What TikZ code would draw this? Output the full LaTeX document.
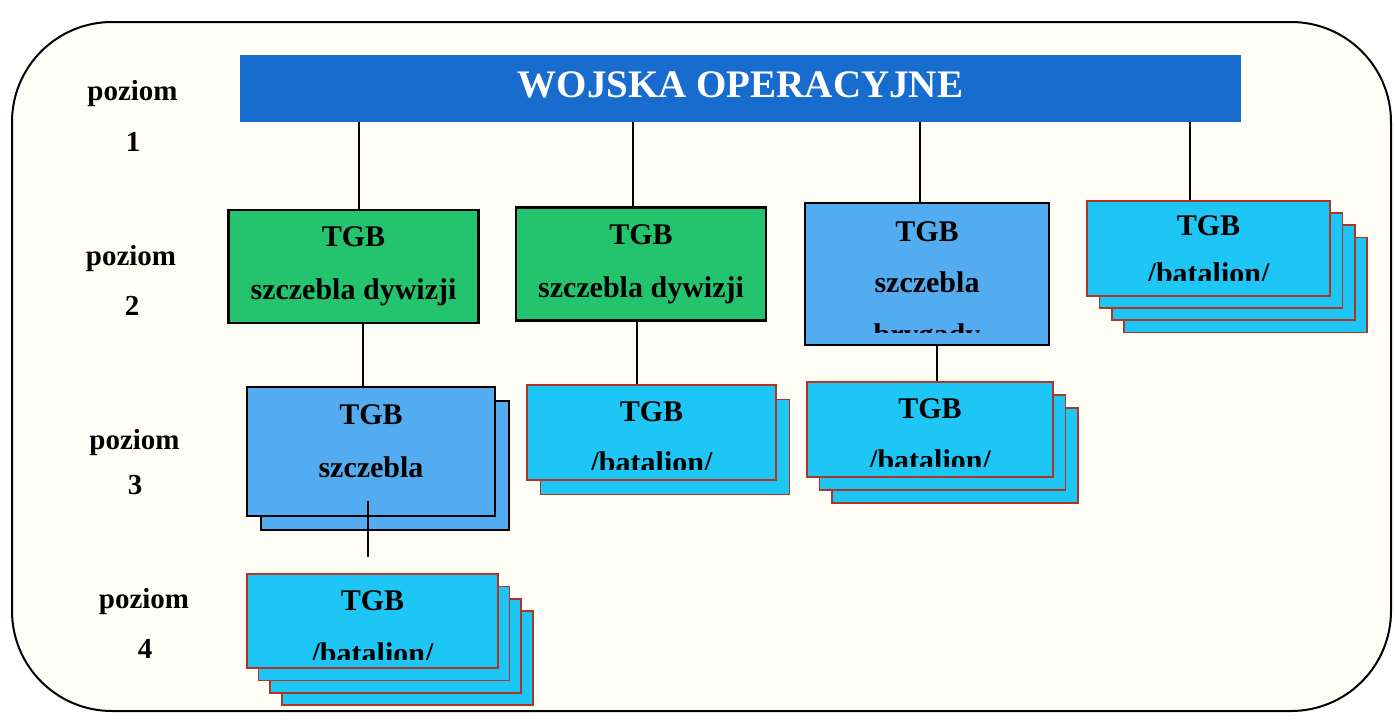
\documentclass[tikz,border=0pt]{standalone}
\usepackage{fontspec}
\setmainfont{Liberation Serif}
\usetikzlibrary{calc}

\definecolor{bannerblue}{RGB}{24,108,206}
\definecolor{tgbgreen}{RGB}{36,196,110}
\definecolor{tgbblue}{RGB}{84,172,240}
\definecolor{tgbcyan}{RGB}{30,198,246}
\definecolor{tgbred}{RGB}{176,52,34}
\definecolor{paper}{RGB}{254,253,246}

\tikzset{
  lvl/.style={font=\fontsize{29}{29}\selectfont\bfseries, anchor=base, inner sep=0pt},
  tgbtext/.style={font=\fontsize{30}{30}\selectfont\bfseries, anchor=base, inner sep=0pt},
  greenbox/.style={draw, line width=2.6pt, fill=tgbgreen, minimum width=250pt, minimum height=113pt},
  bluebox/.style={draw, line width=2.6pt, fill=tgbblue},
  cyanbox/.style={draw=tgbred, line width=1.6pt, fill=tgbcyan, minimum width=247pt, minimum height=95pt},
  link/.style={line width=1.6pt}
}

\begin{document}
\begin{tikzpicture}[x=1pt,y=-1pt]
        \useasboundingbox (0,0) rectangle (1395,720);
        \draw[line width=2pt, rounded corners=100pt, fill=paper] (12,22) rectangle (1391,711);

        % Banner.
        \node[fill=bannerblue, minimum width=1001pt, minimum height=67pt, inner sep=0pt,
              text=white, font=\fontsize{39}{39}\selectfont\bfseries,
              text height=26pt, text depth=9pt] (wo) at (740.5,88.5) {WOJSKA OPERACYJNE};

        % Levels.
        \node[lvl] (p1) at (132.5,100) {poziom};
        \node[lvl] (n1) at (133,151) {1};
        \node[lvl] (p2) at (131,265) {poziom};
        \node[lvl] (n2) at (132,315) {2};
        \node[lvl] (p3) at (134.5,449) {poziom};
        \node[lvl] (n3) at (135,494) {3};
        \node[lvl] (p4) at (144,608) {poziom};
        \node[lvl] (n4) at (145,658) {4};

        % Level 2.
        \node[greenbox] (a2) at (353.5,266.5) {};
        \node[tgbtext] (a2t) at ([yshift=-38pt]a2.north) {TGB};
        \node[tgbtext] (a2s) at ([yshift=-91pt]a2.north) {szczebla dywizji};

        \node[greenbox] (b2) at (641,264) {};
        \node[tgbtext] (b2t) at ([yshift=-38pt]b2.north) {TGB};
        \node[tgbtext] (b2s) at ([yshift=-91pt]b2.north) {szczebla dywizji};

        \node[bluebox, minimum width=244pt, minimum height=142pt] (c2) at (927,274) {};
        \begin{scope}
            \clip (c2.north west) rectangle ([yshift=-131pt]c2.north east);
            \node[tgbtext] (c2t) at ([yshift=-40pt]c2.north) {TGB};
            \node[tgbtext] (c2s) at ([yshift=-91pt]c2.north) {szczebla};
            \node[tgbtext] (c2b) at ([yshift=-143pt]c2.north) {brygady};
        \end{scope}

        \node[cyanbox, minimum width=243pt] (d2c) at (1245.5,285) {};
        \node[cyanbox, minimum width=243pt] (d2b) at (1233.5,272.5) {};
        \node[cyanbox, minimum width=243pt] (d2a) at (1221,260.5) {};
        \node[cyanbox, minimum width=243pt] (d2) at (1208.5,248.5) {};
        \begin{scope}
            \clip (d2.north west) rectangle ([yshift=-80pt]d2.north east);
            \node[tgbtext] (d2t) at ([yshift=-35pt]d2.north) {TGB};
            \node[tgbtext] (d2s) at ([yshift=-83pt]d2.north) {/batalion/};
        \end{scope}

        % Level 3.
        \node[bluebox, minimum width=248pt, minimum height=129pt] (e3a) at (385,465.5) {};
        \node[bluebox, minimum width=248pt, minimum height=129pt] (e3) at (371,451.5) {};
        \node[tgbtext] (e3t) at ([yshift=-39pt]e3.north) {TGB};
        \node[tgbtext] (e3s) at ([yshift=-92pt]e3.north) {szczebla};

        \node[cyanbox, minimum width=249pt] (g3a) at (665,447) {};
        \node[cyanbox, minimum width=249pt] (g3) at (651.5,432.5) {};
        \begin{scope}
            \clip (g3.north west) rectangle ([yshift=-85pt]g3.north east);
            \node[tgbtext] (g3t) at ([yshift=-37pt]g3.north) {TGB};
            \node[tgbtext] (g3s) at ([yshift=-88pt]g3.north) {/batalion/};
        \end{scope}

        \node[cyanbox, minimum width=246pt] (h3b) at (955,455.5) {};
        \node[cyanbox, minimum width=246pt] (h3a) at (942.5,442.5) {};
        \node[cyanbox, minimum width=246pt] (h3) at (930,429.5) {};
        \begin{scope}
            \clip (h3.north west) rectangle ([yshift=-85pt]h3.north east);
            \node[tgbtext] (h3t) at ([yshift=-37pt]h3.north) {TGB};
            \node[tgbtext] (h3s) at ([yshift=-89pt]h3.north) {/batalion/};
        \end{scope}

        % Level 4.
        \node[cyanbox, minimum width=251pt, minimum height=94pt] (f4c) at (407.5,658) {};
        \node[cyanbox, minimum width=251pt, minimum height=94pt] (f4b) at (395.5,646) {};
        \node[cyanbox, minimum width=251pt, minimum height=94pt] (f4a) at (384,633.5) {};
        \node[cyanbox, minimum width=251pt, minimum height=94pt] (f4) at (372.5,621) {};
        \begin{scope}
            \clip (f4.north west) rectangle ([yshift=-86pt]f4.north east);
            \node[tgbtext] (f4t) at ([yshift=-37pt]f4.north) {TGB};
            \node[tgbtext] (f4s) at ([yshift=-90pt]f4.north) {/batalion/};
        \end{scope}

        % Links.
        \draw[link] ([xshift=5.5pt]a2.north) -- ([xshift=5.5pt]a2.north |- wo.south);
        \draw[link] ([xshift=-8pt]b2.north) -- ([xshift=-8pt]b2.north |- wo.south);
        \draw[link] ([xshift=-7pt]c2.north) -- ([xshift=-7pt]c2.north |- wo.south);
        \draw[link] ([xshift=-18.5pt]d2.north) -- ([xshift=-18.5pt]d2.north |- wo.south);
        \draw[link] ([xshift=9.5pt]a2.south) -- ([xshift=9.5pt]a2.south |- e3.north);
        \draw[link] ([xshift=-4pt]b2.south) -- ([xshift=-4pt]b2.south |- g3.north);
        \draw[link] ([xshift=10pt]c2.south) -- ([xshift=10pt]c2.south |- h3.north);
        \draw[link] ([xshift=-3pt,yshift=16pt]e3.south) -- ([xshift=-3pt,yshift=16pt]e3.south |- f4.north);

    \end{tikzpicture}
\end{document}
